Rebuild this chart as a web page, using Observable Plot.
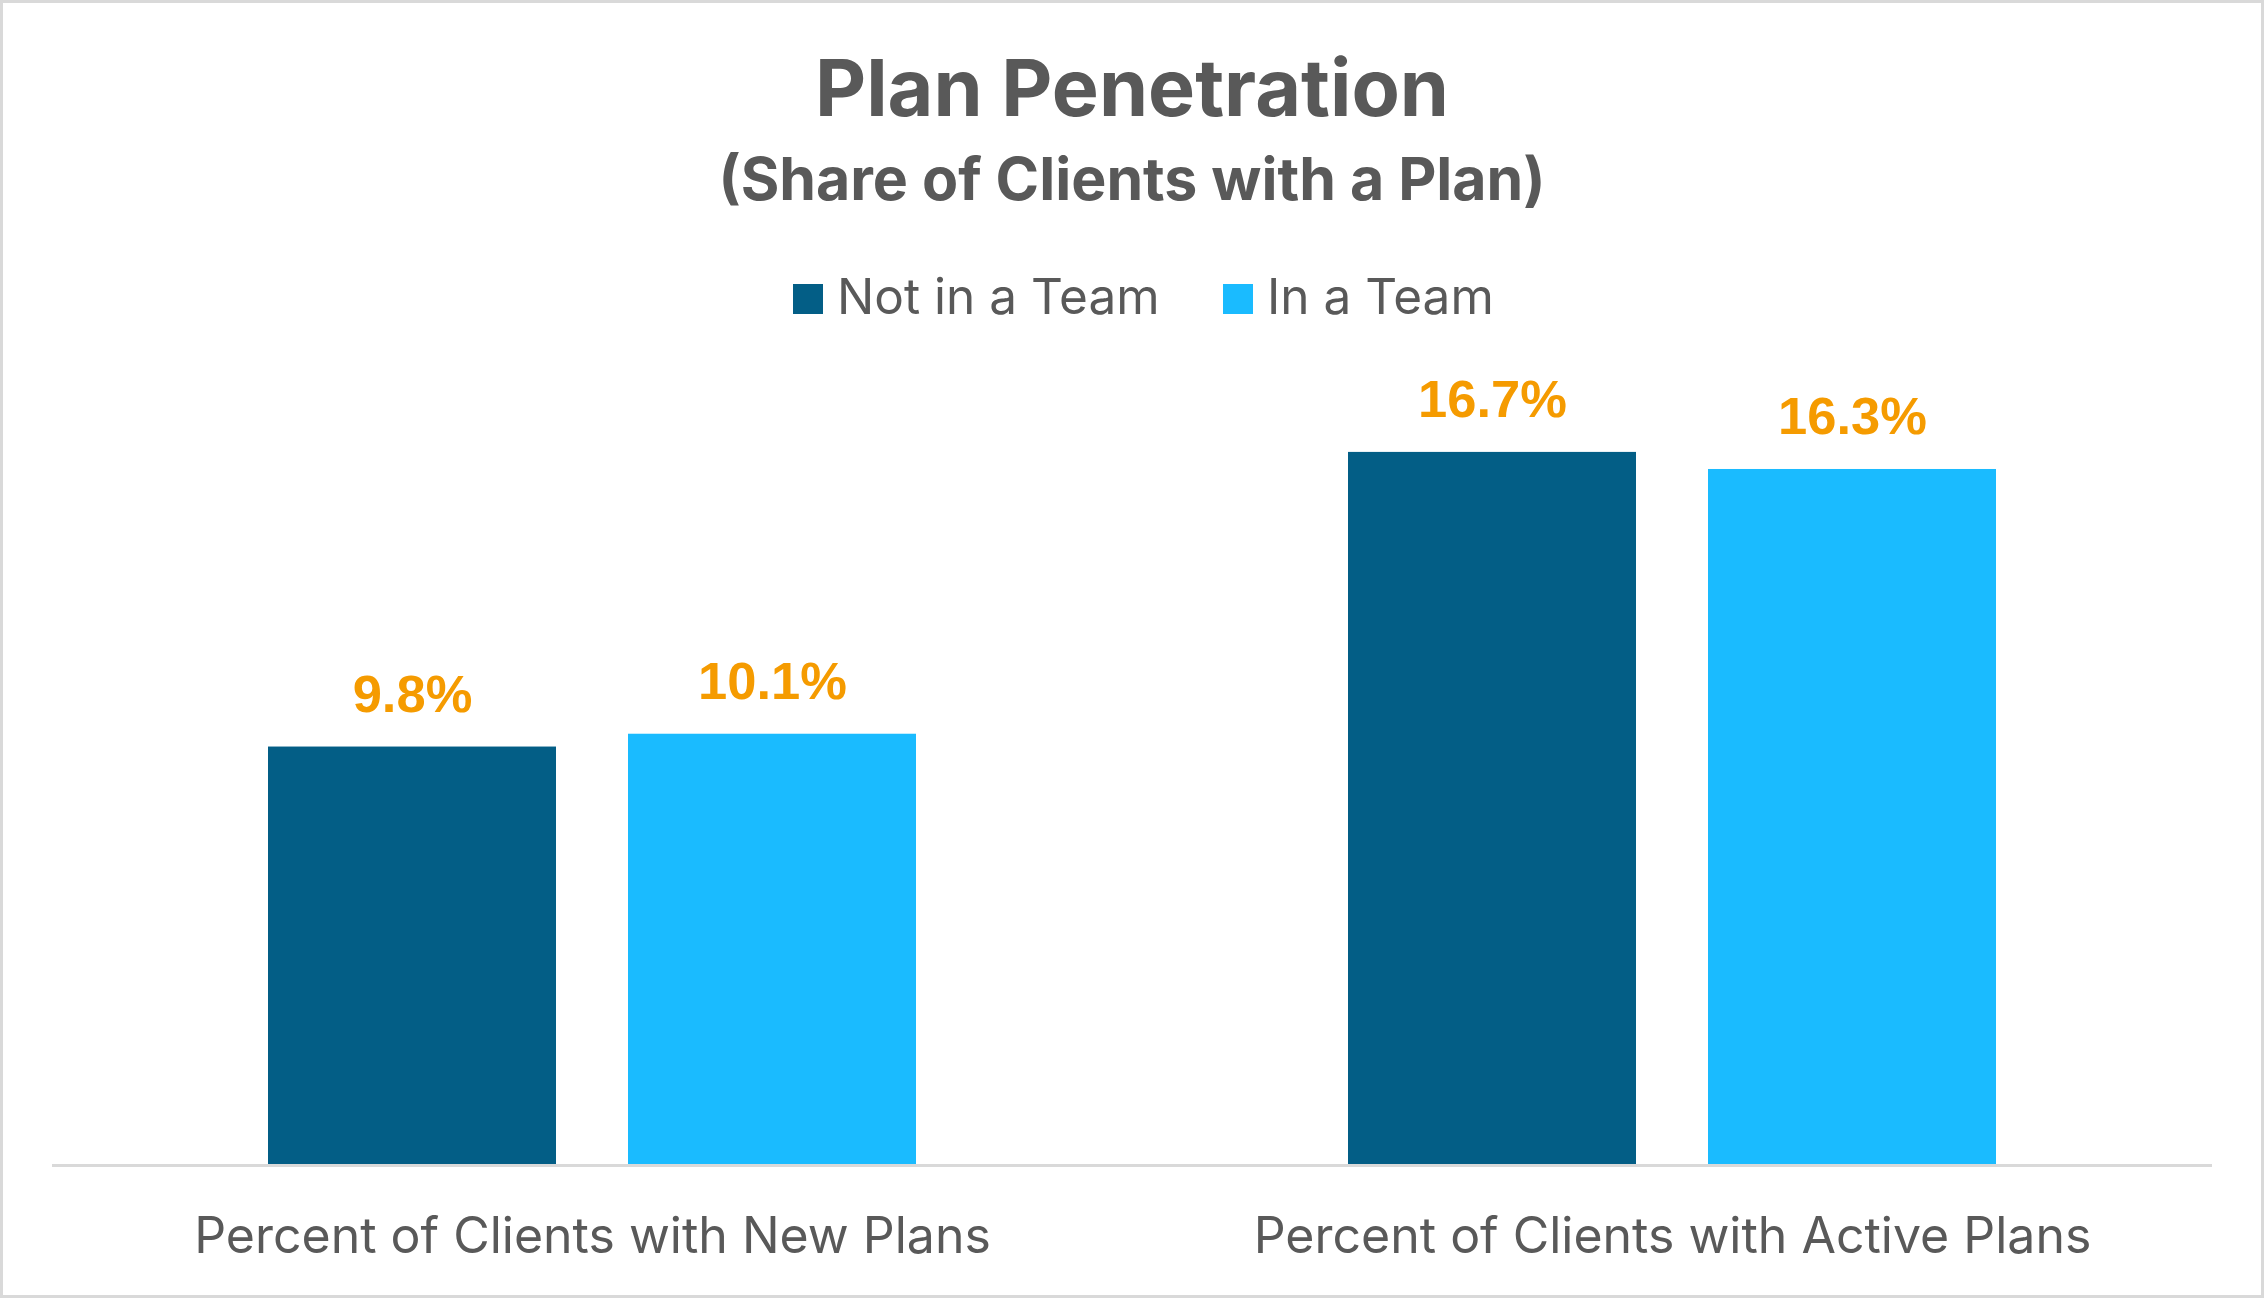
<!DOCTYPE html>
<html>
<head>
<meta charset="utf-8">
<script src="https://cdn.jsdelivr.net/npm/d3@7"></script>
<script src="https://cdn.jsdelivr.net/npm/@observablehq/plot@0.6"></script>
<style>
  html, body { margin: 0; padding: 0; background: #fff; }
  #wrap { position: relative; width: 2264px; height: 1298px; background: #fff; overflow: hidden; }
  .t { position: absolute; left: 0; top: 0; white-space: nowrap; line-height: 1.2; color: #595959; font-family: Inter, "Open Sans", sans-serif; }
  .center { width: 2264px; text-align: center; }
  .sw { display: inline-block; width: 30px; height: 30px; vertical-align: baseline; margin-right: 14px; }
  #chart { position: absolute; left: 0; top: 240px; }
  #border { position: absolute; left: 0; top: 0; width: 2264px; height: 1298px; box-sizing: border-box; border: 3px solid #d9d9d9; pointer-events: none; }
</style>
</head>
<body>
<div id="wrap">
  <div class="t center" data-base="116" style="font-weight:700;font-size:79px;">Plan Penetration</div>
  <div class="t center" data-base="200" style="font-weight:700;font-size:59px;">(Share of Clients with a Plan)</div>
  <div class="t" id="leg0" data-base="314" style="left:793px;font-size:49.5px;"></div>
  <div class="t" id="leg1" data-base="314" style="left:1223px;font-size:49.5px;"></div>
  <div id="chart"></div>
  <div id="border"></div>
</div>
<script>
// ---- data ----
const categories = ["Percent of Clients with New Plans", "Percent of Clients with Active Plans"];
const series = ["Not in a Team", "In a Team"];
const notInTeam = [9.8, 16.7];
const inTeam = [10.1, 16.3];
const seriesColors = ["#035E86", "#1ABBFF"];

const values = [notInTeam, inTeam];
const data = categories.flatMap((c, i) =>
  series.map((s, j) => ({ category: c, series: s, value: values[j][i] }))
);

// legend
series.forEach((s, j) => {
  const el = document.getElementById("leg" + j);
  const sw = document.createElement("span");
  sw.className = "sw";
  sw.style.background = seriesColors[j];
  el.appendChild(sw);
  el.appendChild(document.createTextNode(s));
});

const chart = Plot.plot({
  width: 2264,
  height: 1055,
  marginTop: 71,
  marginBottom: 130,
  marginLeft: 52,
  marginRight: 52,
  fx: { domain: categories, padding: 0, label: null },
  x: { domain: series, paddingInner: 0.2, paddingOuter: 0.6, axis: null },
  y: { domain: [0, 20], axis: null },
  color: { domain: series, range: seriesColors },
  style: { fontFamily: "Inter, 'Open Sans', sans-serif", background: "transparent", overflow: "visible", color: "#595959" },
  marks: [
    Plot.barY(data, { fx: "category", x: "series", y: "value", fill: "series" }),
    Plot.ruleY([0], { stroke: "#d9d9d9", strokeWidth: 3 }),
    Plot.text(data, {
      fx: "category", x: "series", y: "value",
      text: d => d.value.toFixed(1) + "%",
      lineAnchor: "bottom", dy: -35,
      fill: "#F59B00", fontSize: 52.5, fontWeight: "bold",
      fontFamily: "'Liberation Sans', Arial, sans-serif"
    }),
    Plot.axisFx({ anchor: "bottom", tickSize: 0, tickPadding: 52, fontSize: 50, fill: "#595959", label: null })
  ]
});
document.getElementById("chart").appendChild(chart);

// align text baselines
const wrap = document.getElementById("wrap");
document.querySelectorAll(".t").forEach(el => {
  const m = document.createElement("span");
  m.style.cssText = "display:inline-block;width:0;height:0;vertical-align:baseline;";
  el.appendChild(m);
  const base = m.getBoundingClientRect().top - wrap.getBoundingClientRect().top;
  el.style.top = (parseFloat(getComputedStyle(el).top) + (+el.dataset.base - base)) + "px";
});
</script>
</body>
</html>
